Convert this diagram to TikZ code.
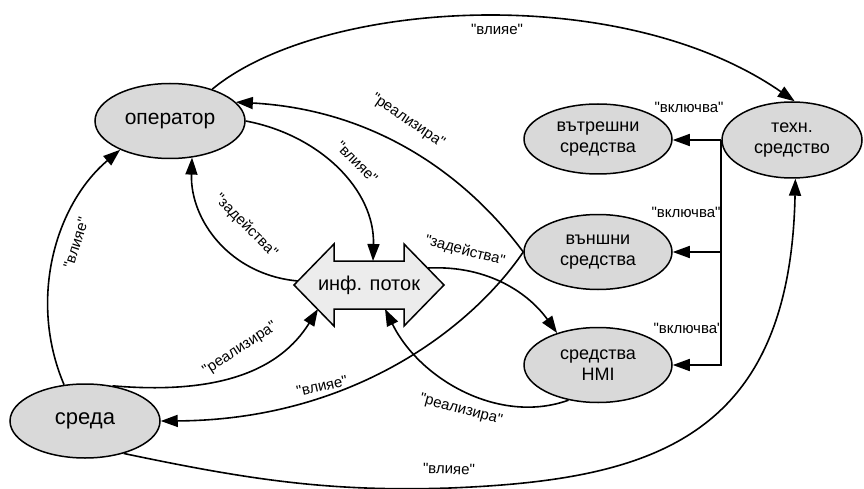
\documentclass[tikz,border=0pt]{standalone}
\usepackage{fontspec}
\setmainfont{Liberation Sans}
\newfontfamily\lblfont{Liberation Sans}
\usetikzlibrary{shapes.geometric,arrows.meta,calc}
\definecolor{nodegray}{RGB}{217,217,217}
\definecolor{flowgray}{RGB}{236,236,236}
\begin{document}
\begin{tikzpicture}[x=1pt,y=-1pt,
  ent/.style={ellipse,draw,line width=1.5pt,fill=nodegray,inner sep=0pt,align=center,
    font=\fontsize{18}{20.5}\selectfont},
  con/.style={line width=1.6pt,-{Triangle[length=17pt,width=12pt]}},
  lab/.style={font=\lblfont\fontsize{15}{17}\selectfont,inner sep=0pt}]
\useasboundingbox (0,0) rectangle (864,489);

% nodes
\node[ent,minimum width=150,minimum height=75,font=\fontsize{21}{23}\selectfont] (op) at (170,121) {оператор};
\node[ent,minimum width=140,minimum height=76] (tech) at (792,140) {техн.\\средство};
\node[ent,minimum width=148,minimum height=70] (inner) at (598,139) {вътрешни\\средства};
\node[ent,minimum width=148,minimum height=75] (outer) at (598,252) {външни\\средства};
\node[ent,minimum width=148,minimum height=75] (hmi) at (598,365) {средства\\HMI};
\node[ent,minimum width=150,minimum height=74,font=\fontsize{22}{24}\selectfont] (env) at (85,421) {среда};

% information flow double arrow
\draw[line width=1.5pt,fill=flowgray,line join=miter]
  (294,285) -- (334,244) -- (334,261) -- (404,261) -- (404,244) -- (444,285)
  -- (404,326) -- (404,309) -- (334,309) -- (334,326) -- cycle;
\node[font=\fontsize{20}{22}\selectfont,inner sep=0pt] (flow) at (369,285) {инф. поток};
\coordinate (flowT) at (373,261);
\coordinate (flowL) at (298,281);
\coordinate (flowR) at (428,268);
\coordinate (flowBL) at (318,309);
\coordinate (flowB) at (385,309);

% connectors
\draw[con] (op.37) .. controls (320,0) and (620,-20) .. (tech.86);
\node[lab] (l1) at (497,29) {"влияе"};

\draw[con] (tech.west) -- (tech.west -| inner.east);
\draw[con] (tech.west) |- (outer.east);
\draw[con] (tech.west) |- (hmi.east);
\node[lab] (l2) at (689,107) {"включва"};
\node[lab] (l3) at (686,212) {"включва"};
\node[lab] (l4) at (688,328) {"включва"};

\draw[con] (op.east) .. controls (320,135) and (375,190) .. (flowT);
\node[lab,rotate=-45] (l5) at (357,162) {"влияе"};

\draw[con] (flowL) .. controls (230,275) and (190,220) .. (op.-59);
\node[lab,rotate=-45] (l6) at (246,226) {"задейства"};

\draw[con] (outer.west) .. controls (470,180) and (380,110) .. (op.16);
\node[lab,rotate=-34] (l7) at (408,121) {"реализира"};

\draw[con] (flowR) .. controls (490,265) and (530,295) .. (hmi.142);
\node[lab,rotate=-15] (l8) at (465,251) {"задейства"};

\draw[con] (env.120) .. controls (28,300) and (55,205) .. (op.-150);
\node[lab,rotate=72] (l9) at (76,243) {"влияе"};

\draw[con] (env.52) .. controls (220,395) and (280,370) .. (flowBL);
\node[lab,rotate=33] (l10) at (240,349) {"реализира"};

\draw[con] (outer.west) .. controls (470,330) and (350,420) .. (env.east);
\node[lab,rotate=13] (l11) at (322,386) {"влияе"};

\draw[con] (hmi.-130) .. controls (500,425) and (420,380) .. (flowB);
\node[lab,rotate=-15] (l12) at (461,410) {"реализира"};

\draw[con] (env.-40) .. controls (250,480) and (330,492) .. (450,488)
  .. controls (650,480) and (790,440) .. (tech.-85);
\node[lab,rotate=-2] (l13) at (449,469) {"влияе"};
\end{tikzpicture}
\end{document}
